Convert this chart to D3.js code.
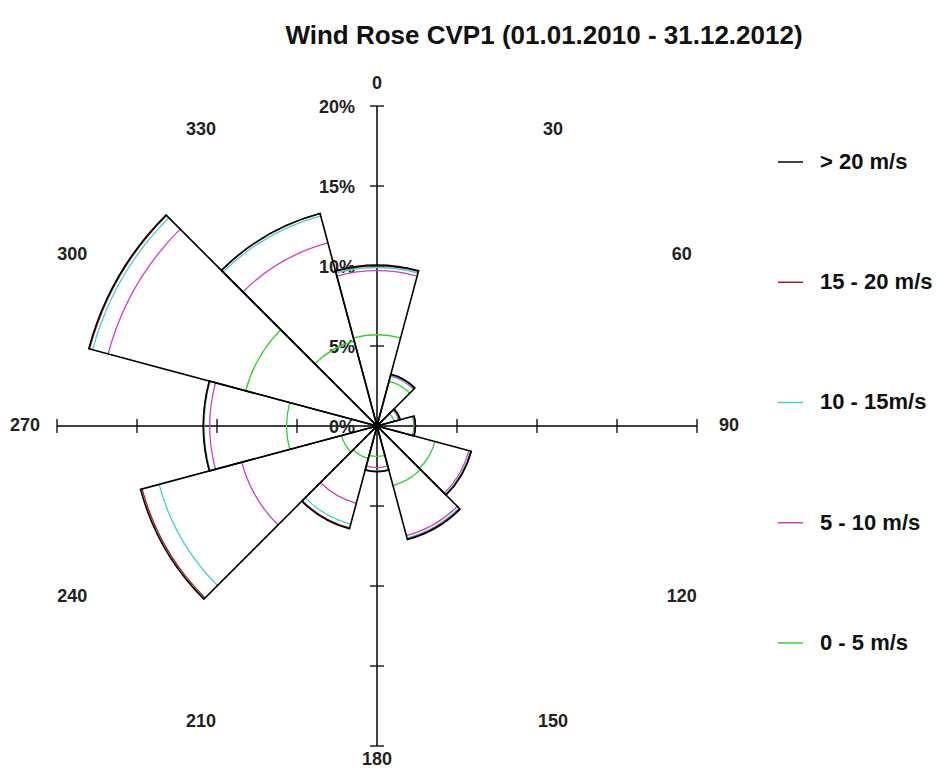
<!DOCTYPE html>
<html>
<head>
<meta charset="utf-8">
<script src="https://cdn.jsdelivr.net/npm/d3@7"></script>
<style>
    body { margin: 0; background: #fff; }
    svg text { font-family: Arial, "Liberation Sans", sans-serif; font-weight: bold; }
</style>
</head>
<body>
<div id="visual"></div>
<script>
// sector centre directions (deg) and the frequency (%) of each speed class
var directions = [0, 30, 60, 90, 120, 150, 180, 210, 240, 270, 300, 330];
var speed0to5   = [5.7, 2.9, 1.1, 2.3, 3.75, 3.85, 1.9, 2.1, 2.3, 5.65, 8.5, 5.5];
var speed5to10  = [4.0, 0.35, 0.3, 0.05, 2.2, 3.25, 0.7, 2.9, 6.45, 4.8, 8.9, 6.35];
var speed10to15 = [0.2, 0.05, 0.05, 0.05, 0.1, 0.15, 0.2, 1.35, 5.35, 0.35, 1.0, 1.75];
var speed15to20 = [0.1, 0.05, 0.05, 0, 0.05, 0.05, 0.05, 0.25, 1.1, 0.05, 0.2, 0.15];
var speedOver20 = [0.05, 0, 0, 0, 0, 0.05, 0, 0.05, 0.1, 0, 0.05, 0];

var classLabels = ["0 - 5 m/s", "5 - 10 m/s", "10 - 15m/s", "15 - 20 m/s", "> 20 m/s"];
var classColors = ["#2ed42e", "#cc3fcc", "#40d0d0", "#a82020", "#000000"];
var percentTicks = [0, 5, 10, 15, 20];
var dirLabels = ["0", "30", "60", "90", "120", "150", "180", "210", "240", "270", "300", "330"];
var title = "Wind Rose CVP1 (01.01.2010 - 31.12.2012)";

function chart() {
    var w = 947, h = 773;
    var cx = 377, cy = 426;
    var classes = [speed0to5, speed5to10, speed10to15, speed15to20, speedOver20];

    var svg = d3.select("#visual").append("svg").attr("width", w).attr("height", h);

    var r = d3.scaleLinear().domain([0, 20]).range([0, 320]);
    var toRad = function (deg) { return deg * Math.PI / 180; };

    // title
    svg.append("text")
        .attr("x", 544).attr("y", 44)
        .attr("text-anchor", "middle")
        .attr("font-size", "26px")
        .attr("fill", "#111")
        .text(title);

    var g = svg.append("g").attr("transform", "translate(" + cx + "," + cy + ")");

    // axes
    var rMax = r(20);
    g.append("line").attr("x1", 0).attr("x2", 0).attr("y1", -rMax).attr("y2", rMax)
        .attr("stroke", "#000").attr("stroke-width", 1.5);
    g.append("line").attr("x1", -rMax).attr("x2", rMax).attr("y1", 0).attr("y2", 0)
        .attr("stroke", "#000").attr("stroke-width", 1.5);

    var tickVals = percentTicks.filter(function (d) { return d > 0; });
    [1, -1].forEach(function (s) {
        g.selectAll(null).data(tickVals).enter().append("line")
            .attr("x1", -7).attr("x2", 7)
            .attr("y1", function (d) { return s * r(d); })
            .attr("y2", function (d) { return s * r(d); })
            .attr("stroke", "#000").attr("stroke-width", 1.3);
        g.selectAll(null).data(tickVals).enter().append("line")
            .attr("y1", -7).attr("y2", 7)
            .attr("x1", function (d) { return s * r(d); })
            .attr("x2", function (d) { return s * r(d); })
            .attr("stroke", "#000").attr("stroke-width", 1.3);
    });

    g.selectAll(null).data(percentTicks).enter().append("text")
        .attr("x", -22)
        .attr("y", function (d) { return -r(d) + 2; })
        .attr("text-anchor", "end")
        .attr("dominant-baseline", "middle")
        .attr("font-size", "18px")
        .attr("fill", "#222")
        .text(function (d) { return d + "%"; });

    // direction labels, on a slightly wide ellipse
    var rx = 352, ry = 342;
    g.selectAll(null).data(directions).enter().append("text")
        .attr("x", function (d) { return rx * Math.sin(toRad(d)); })
        .attr("y", function (d) { return Math.min(-ry * Math.cos(toRad(d)), 334); })
        .attr("text-anchor", "middle")
        .attr("dominant-baseline", "middle")
        .attr("font-size", "18px")
        .attr("fill", "#222")
        .text(function (d, i) { return dirLabels[i]; });

    // cumulative radii per sector
    var cumulative = directions.map(function (d, i) {
        var sum = 0;
        return classes.map(function (c) { sum += c[i]; return sum; });
    });

    // coloured arcs for each speed class
    directions.forEach(function (dir, i) {
        var a0 = toRad(dir - 15 - 90), a1 = toRad(dir + 15 - 90);
        for (var k = 0; k < classes.length - 1; k++) {
            var p = d3.path();
            var rr = r(cumulative[i][k]);
            p.moveTo(rr * Math.cos(a0), rr * Math.sin(a0));
            p.arc(0, 0, rr, a0, a1);
            g.append("path")
                .attr("d", p.toString())
                .attr("fill", "none")
                .attr("stroke", classColors[k])
                .attr("stroke-width", 1.3);
        }
    });

    // black wedge outlines (total)
    directions.forEach(function (dir, i) {
        var a0 = toRad(dir - 15 - 90), a1 = toRad(dir + 15 - 90);
        var rr = r(cumulative[i][classes.length - 1]);
        var p = d3.path();
        p.moveTo(0, 0);
        p.arc(0, 0, rr, a0, a1);
        p.closePath();
        g.append("path")
            .attr("d", p.toString())
            .attr("fill", "none")
            .attr("stroke", "#000")
            .attr("stroke-width", 1.6);
    });

    g.append("circle").attr("r", 4.5).attr("fill", "#000");

    // legend
    var legendY = d3.scaleLinear().domain([0, 4]).range([162, 643]);
    var order = [4, 3, 2, 1, 0];
    var leg = svg.selectAll(null).data(order).enter().append("g")
        .attr("transform", function (d, i) { return "translate(778," + legendY(i) + ")"; });
    leg.append("line")
        .attr("x1", 0).attr("x2", 25).attr("y1", 0).attr("y2", 0)
        .attr("stroke", function (d) { return classColors[d]; })
        .attr("stroke-width", 1.5);
    leg.append("text")
        .attr("x", 42).attr("y", 1)
        .attr("dominant-baseline", "middle")
        .attr("font-size", "22px")
        .attr("fill", "#111")
        .text(function (d) { return classLabels[d]; });
}

chart();
</script>
</body>
</html>
